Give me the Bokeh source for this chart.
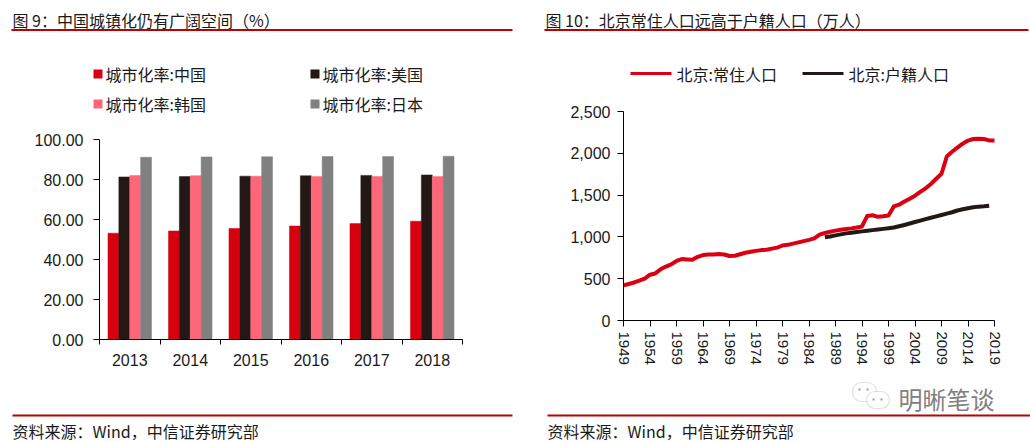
import numpy as np
from bokeh.plotting import figure
from bokeh.models import (Range1d, FixedTicker, NumeralTickFormatter, Label, BoxAnnotation,
                          LinearAxis, ColumnDataSource)
from bokeh.transform import dodge
from bokeh.embed import file_html
from bokeh.resources import INLINE

# ---------------- data ----------------
bar_years = [2013, 2014, 2015, 2016, 2017, 2018]
urban_china = [53.17, 54.26, 55.50, 56.74, 57.96, 59.15]
urban_us = [81.28, 81.45, 81.67, 81.86, 82.06, 82.26]
urban_korea = [81.95, 81.90, 81.63, 81.55, 81.50, 81.46]
urban_japan = [91.16, 91.30, 91.38, 91.46, 91.54, 91.62]
bar_names = ["城市化率:中国", "城市化率:美国", "城市化率:韩国", "城市化率:日本"]

pop_years = list(range(1949, 2020))
pop_resident = [420, 437, 455, 478, 500, 548, 563, 612, 645, 672,
                712, 735, 730, 726, 762, 783, 790, 790, 795, 790,
                772, 775, 792, 810, 822, 833, 842, 847, 860, 872,
                897, 905, 920, 935, 950, 965, 982, 1028, 1047, 1062,
                1075, 1086, 1094, 1102, 1112, 1125, 1251, 1259, 1240, 1246,
                1257, 1364, 1385, 1423, 1456, 1493, 1538, 1581, 1633, 1695,
                1755, 1962, 2019, 2069, 2115, 2152, 2171, 2173, 2171, 2154,
                2154]
hukou_years = list(range(1987, 2019))
pop_hukou = [995, 1005, 1018, 1030, 1042, 1050, 1058, 1066, 1073, 1081,
             1088, 1096, 1104, 1112, 1127, 1143, 1160, 1178, 1195, 1212,
             1229, 1245, 1262, 1278, 1295, 1316, 1330, 1342, 1354, 1362,
             1366, 1372]
line_names = ["北京:常住人口", "北京:户籍人口"]

y_ticks_left = [0, 20, 40, 60, 80, 100]
y_ticks_right = [0, 500, 1000, 1500, 2000, 2500]
x_tick_step_right = 5

title_left = "图 9：中国城镇化仍有广阔空间（%）"
title_right = "图 10：北京常住人口远高于户籍人口（万人）"
source_text = "资料来源：Wind，中信证券研究部"
watermark = "明晰笔谈"

# ---------------- style ----------------
CJK = "Noto Sans CJK SC"
NUM = "Liberation Sans"
TXT = "#1a1a1a"
RULE = "#C00000"
bar_colors = ["#D7000F", "#231815", "#FF6678", "#808080"]
line_colors = ["#DA0012", "#231815"]

W, H = 1030, 442


def rng(a, b, pa, pb, total):
    """Range whose values a, b land on canvas pixels pa, pb."""
    s = (pb - pa) / (b - a)
    return Range1d(a - pa / s, a + (total - pa) / s)


# plot-area pixel boxes (left, right, top, bottom) measured from the top-left corner
L_BOX = (99, 462, 139, 339)
R_BOX = (623, 994, 111, 320)

x_left = rng(bar_years[0] - 0.5, bar_years[-1] + 0.5, L_BOX[0], L_BOX[1], W)
y_left = rng(y_ticks_left[0], y_ticks_left[-1], H - L_BOX[3], H - L_BOX[2], H)
x_right = rng(pop_years[0], pop_years[-1], R_BOX[0], R_BOX[1], W)
y_right = rng(y_ticks_right[0], y_ticks_right[-1], H - R_BOX[3], H - R_BOX[2], H)

p = figure(width=W, height=H, x_range=x_left, y_range=y_left,
           x_axis_type=None, y_axis_type=None,
           output_backend="svg", toolbar_location=None,
           min_border=0, min_border_left=0, min_border_right=0,
           min_border_top=0, min_border_bottom=0)
p.extra_x_ranges = {"r": x_right}
p.extra_y_ranges = {"r": y_right}
p.outline_line_color = None
p.background_fill_color = "white"
p.border_fill_color = "white"


def style_axis(ax, tick_out, standoff, size="16px", minor_out=0):
    ax.axis_line_color = "black"
    ax.axis_line_width = 1
    ax.major_tick_line_color = "black"
    ax.minor_tick_line_color = "black"
    ax.major_tick_in = 0
    ax.major_tick_out = tick_out
    ax.minor_tick_in = 0
    ax.minor_tick_out = minor_out
    ax.major_label_standoff = standoff
    ax.major_label_text_font = NUM
    ax.major_label_text_font_size = size
    ax.major_label_text_color = TXT


# ---- left chart axes ----
ax_ly = LinearAxis(fixed_location=bar_years[0] - 0.5,
                   bounds=(y_ticks_left[0], y_ticks_left[-1]),
                   ticker=FixedTicker(ticks=y_ticks_left),
                   formatter=NumeralTickFormatter(format="0.00"))
style_axis(ax_ly, 6, 10)
p.add_layout(ax_ly, "left")

ax_lx = LinearAxis(fixed_location=y_ticks_left[0],
                   bounds=(bar_years[0] - 0.5, bar_years[-1] + 0.5),
                   ticker=FixedTicker(ticks=bar_years,
                                      minor_ticks=[y - 0.5 for y in bar_years] + [bar_years[-1] + 0.5]),
                   formatter=NumeralTickFormatter(format="0"))
style_axis(ax_lx, 0, 9, minor_out=5)
p.add_layout(ax_lx, "below")

# ---- right chart axes ----
ax_ry = LinearAxis(x_range_name="r", y_range_name="r", fixed_location=pop_years[0],
                   bounds=(y_ticks_right[0], y_ticks_right[-1]),
                   ticker=FixedTicker(ticks=y_ticks_right),
                   formatter=NumeralTickFormatter(format="0,0"))
style_axis(ax_ry, 6, 7)
p.add_layout(ax_ry, "left")

ax_rx = LinearAxis(x_range_name="r", y_range_name="r", fixed_location=y_ticks_right[0],
                   bounds=(pop_years[0], pop_years[-1]),
                   ticker=FixedTicker(ticks=list(range(pop_years[0], pop_years[-1] + 1, x_tick_step_right))),
                   formatter=NumeralTickFormatter(format="0"))
style_axis(ax_rx, 6, 5, size="15px")
ax_rx.major_label_orientation = "vertical"
p.add_layout(ax_rx, "below")

# ---- bars ----
src = ColumnDataSource(dict(year=bar_years, china=urban_china, us=urban_us,
                            korea=urban_korea, japan=urban_japan))
bw = 0.18
offs = [-1.5 * bw, -0.5 * bw, 0.5 * bw, 1.5 * bw]
for col, off, c in zip(["china", "us", "korea", "japan"], offs, bar_colors):
    p.vbar(x=dodge("year", off, range=p.x_range), top=col, width=bw, source=src,
           fill_color=c, line_color=c, line_width=0.5)

# ---- lines ----
p.line(pop_years, pop_resident, line_width=4, line_color=line_colors[0], line_join="round",
       x_range_name="r", y_range_name="r")
p.line(hukou_years, pop_hukou, line_width=4, line_color=line_colors[1], line_join="round",
       x_range_name="r", y_range_name="r")


# ---- text & decorations (pixel positions from the top-left corner) ----
def text(x, y, s, size="16px", color=TXT, font=CJK):
    p.add_layout(Label(x=x, y=H - y, x_units="screen", y_units="screen", text=s,
                       text_baseline="middle", text_align="left",
                       text_font=font, text_font_size=size, text_color=color))


def box(x0, x1, y0, y1, color, line=None, radius=0, fill_alpha=1.0):
    p.add_layout(BoxAnnotation(left=x0, right=x1, top=H - y0, bottom=H - y1,
                               left_units="screen", right_units="screen",
                               top_units="screen", bottom_units="screen",
                               fill_color=color, fill_alpha=fill_alpha,
                               line_color=line, line_width=1.2, border_radius=radius,
                               level="overlay"))


# titles and rules
text(12, 19.5, title_left)
box(11, 512, 28.5, 30.5, RULE)
text(545, 19.5, title_right)
box(544, 1028, 28.5, 30.5, RULE)

# bar legend
leg_x = [93, 310, 93, 310]
leg_y = [73.5, 73.5, 103.5, 103.5]
for name, c, lx, ly in zip(bar_names, bar_colors, leg_x, leg_y):
    box(lx, lx + 9, ly - 4.5, ly + 4.5, c)
    text(lx + 12, ly, name)

# line legend
for name, c, lx in zip(line_names, line_colors, [630, 802]):
    box(lx, lx + 41, 71.5, 74.5, c)
    text(lx + 46, 73.5, name)

# footers
box(12, 512, 414, 416, RULE)
text(12, 430, source_text)
box(547, 1030, 414, 416, RULE)
text(547, 430, source_text)

# watermark
box(852, 876, 382, 401, None, line="#9a9a9a", radius=9, fill_alpha=0)
box(866, 889, 391, 408, "white", line="#9a9a9a", radius=9)
for ex, ey in [(858, 388), (866, 388), (872, 398), (880, 398)]:
    box(ex, ex + 2, ey, ey + 2, "#9a9a9a")
text(898, 398, watermark, size="24px", color="#808080")

open("out.html", "w").write(file_html(p, INLINE))
